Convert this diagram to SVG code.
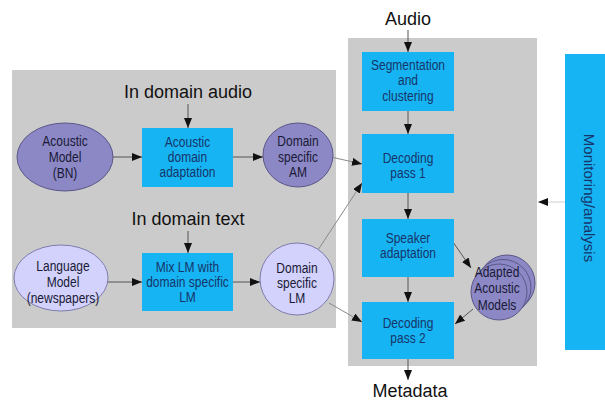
<svg xmlns="http://www.w3.org/2000/svg" width="605" height="405" viewBox="0 0 605 405">
  <defs>
    <marker id="arr" markerUnits="userSpaceOnUse" markerWidth="10" markerHeight="8" refX="10" refY="4" orient="auto">
      <path d="M0,0 L10,4 L0,8 Z" fill="#111"/>
    </marker>
    <style>
      .panel { fill: #cbcbcb; }
      .box { fill: #16b4f2; }
      .am { fill: #8c88c6; stroke: #5a5688; stroke-width: 1; }
      .lm { fill: #d2d2fc; stroke: #7e7cae; stroke-width: 1; }
      .btxt { font-family: "Liberation Sans", Arial, sans-serif; font-size: 15px; fill: #17346a; text-anchor: middle; }
      .etxt { font-family: "Liberation Sans", Arial, sans-serif; font-size: 15px; fill: #1a1a36; text-anchor: middle; }
      .lbl { font-family: "Liberation Sans", Arial, sans-serif; font-size: 18px; fill: #111; text-anchor: middle; }
      .dark { stroke: #555; stroke-width: 1; fill: none; marker-end: url(#arr); }
      .mid { stroke: #8a8a8a; stroke-width: 1; fill: none; marker-end: url(#arr); }
      .faint { stroke: #cfcfcf; stroke-width: 1; fill: none; marker-end: url(#arr); }
    </style>
  </defs>

  <rect width="605" height="405" fill="#fff"/>

  <!-- background panels -->
  <rect id="adaptation-panel" class="panel" x="12" y="70" width="324" height="258"/>
  <rect id="decoder-panel" class="panel" x="348" y="38" width="189" height="328"/>

  <!-- free labels -->
  <text class="lbl" x="188" y="98">In domain audio</text>
  <text class="lbl" x="188" y="225">In domain text</text>
  <text class="lbl" x="408" y="25">Audio</text>
  <text class="lbl" x="410" y="397">Metadata</text>

  <!-- connectors -->
  <g id="connectors">
    <line class="dark" x1="188" y1="104" x2="188" y2="128"/>
    <line class="dark" x1="188" y1="231" x2="188" y2="253"/>
    <line class="dark" x1="113" y1="157" x2="142" y2="157"/>
    <line class="dark" x1="233" y1="157" x2="263" y2="157"/>
    <line class="dark" x1="106" y1="282" x2="142" y2="282"/>
    <line class="dark" x1="233" y1="282" x2="260" y2="282"/>
    <line class="mid" x1="331" y1="157" x2="362" y2="164"/>
    <line class="mid" x1="318" y1="250" x2="362" y2="183"/>
    <line class="mid" x1="329" y1="303" x2="362" y2="322"/>
    <line class="dark" x1="408" y1="30" x2="408" y2="52"/>
    <line class="dark" x1="408" y1="111" x2="408" y2="134"/>
    <line class="dark" x1="408" y1="193" x2="408" y2="219"/>
    <line class="dark" x1="408" y1="277" x2="408" y2="302"/>
    <line class="dark" x1="408" y1="359" x2="408" y2="380"/>
    <line class="dark" x1="453" y1="242" x2="471" y2="268"/>
    <line class="dark" x1="473" y1="309" x2="455" y2="324"/>
    <line class="faint" x1="565" y1="202" x2="538" y2="202"/>
  </g>

  <!-- adaptation nodes -->
  <g id="acoustic-model">
    <ellipse class="am" cx="65" cy="157" rx="48" ry="34"/>
    <g transform="matrix(0.8,0,0,1,65,0)"><text class="etxt"><tspan x="0" y="146">Acoustic</tspan><tspan x="0" y="162">Model</tspan><tspan x="0" y="178">(BN)</tspan></text></g>
  </g>
  <g id="acoustic-domain-adaptation">
    <rect class="box" x="142" y="128" width="91" height="59"/>
    <g transform="matrix(0.8,0,0,1,187.5,0)"><text class="btxt"><tspan x="0" y="147">Acoustic</tspan><tspan x="0" y="162">domain</tspan><tspan x="0" y="177">adaptation</tspan></text></g>
  </g>
  <g id="domain-specific-am">
    <ellipse class="am" cx="298" cy="155" rx="35" ry="32"/>
    <g transform="matrix(0.8,0,0,1,298,0)"><text class="etxt"><tspan x="0" y="146">Domain</tspan><tspan x="0" y="162">specific</tspan><tspan x="0" y="177">AM</tspan></text></g>
  </g>
  <g id="language-model">
    <ellipse class="lm" cx="61" cy="278" rx="47" ry="33"/>
    <g transform="matrix(0.8,0,0,1,63,0)"><text class="etxt"><tspan x="0" y="271">Language</tspan><tspan x="0" y="287">Model</tspan><tspan x="0" y="303">(newspapers)</tspan></text></g>
  </g>
  <g id="mix-lm">
    <rect class="box" x="142" y="253" width="91" height="58"/>
    <g transform="matrix(0.8,0,0,1,187.5,0)"><text class="btxt"><tspan x="0" y="272">Mix LM with</tspan><tspan x="0" y="287">domain specific</tspan><tspan x="0" y="302">LM</tspan></text></g>
  </g>
  <g id="domain-specific-lm">
    <ellipse class="lm" cx="297" cy="279" rx="37" ry="36"/>
    <g transform="matrix(0.8,0,0,1,297,0)"><text class="etxt"><tspan x="0" y="273">Domain</tspan><tspan x="0" y="288">specific</tspan><tspan x="0" y="303">LM</tspan></text></g>
  </g>

  <!-- decoder nodes -->
  <g id="segmentation">
    <rect class="box" x="362" y="52" width="92" height="59"/>
    <g transform="matrix(0.8,0,0,1,408,0)"><text class="btxt"><tspan x="0" y="70">Segmentation</tspan><tspan x="0" y="85.5">and</tspan><tspan x="0" y="101">clustering</tspan></text></g>
  </g>
  <g id="decoding-pass-1">
    <rect class="box" x="362" y="134" width="92" height="59"/>
    <g transform="matrix(0.8,0,0,1,408,0)"><text class="btxt"><tspan x="0" y="163">Decoding</tspan><tspan x="0" y="178">pass 1</tspan></text></g>
  </g>
  <g id="speaker-adaptation">
    <rect class="box" x="362" y="219" width="92" height="58"/>
    <g transform="matrix(0.8,0,0,1,408,0)"><text class="btxt"><tspan x="0" y="243">Speaker</tspan><tspan x="0" y="258">adaptation</tspan></text></g>
  </g>
  <g id="decoding-pass-2">
    <rect class="box" x="362" y="302" width="92" height="57"/>
    <g transform="matrix(0.8,0,0,1,408,0)"><text class="btxt"><tspan x="0" y="328">Decoding</tspan><tspan x="0" y="343">pass 2</tspan></text></g>
  </g>
  <g id="adapted-acoustic-models">
    <circle class="am" cx="507" cy="283" r="28"/>
    <circle class="am" cx="503" cy="287.5" r="28"/>
    <circle class="am" cx="499" cy="292" r="28"/>
    <g transform="matrix(0.8,0,0,1,497,0)"><text class="etxt"><tspan x="0" y="277">Adapted</tspan><tspan x="0" y="293.5">Acoustic</tspan><tspan x="0" y="310">Models</tspan></text></g>
  </g>

  <!-- monitoring -->
  <g id="monitoring">
    <rect class="box" x="565" y="54" width="45" height="296"/>
    <text class="btxt" font-size="13.5" transform="translate(584,198) rotate(90)">Monitoring/analysis</text>
  </g>
</svg>
